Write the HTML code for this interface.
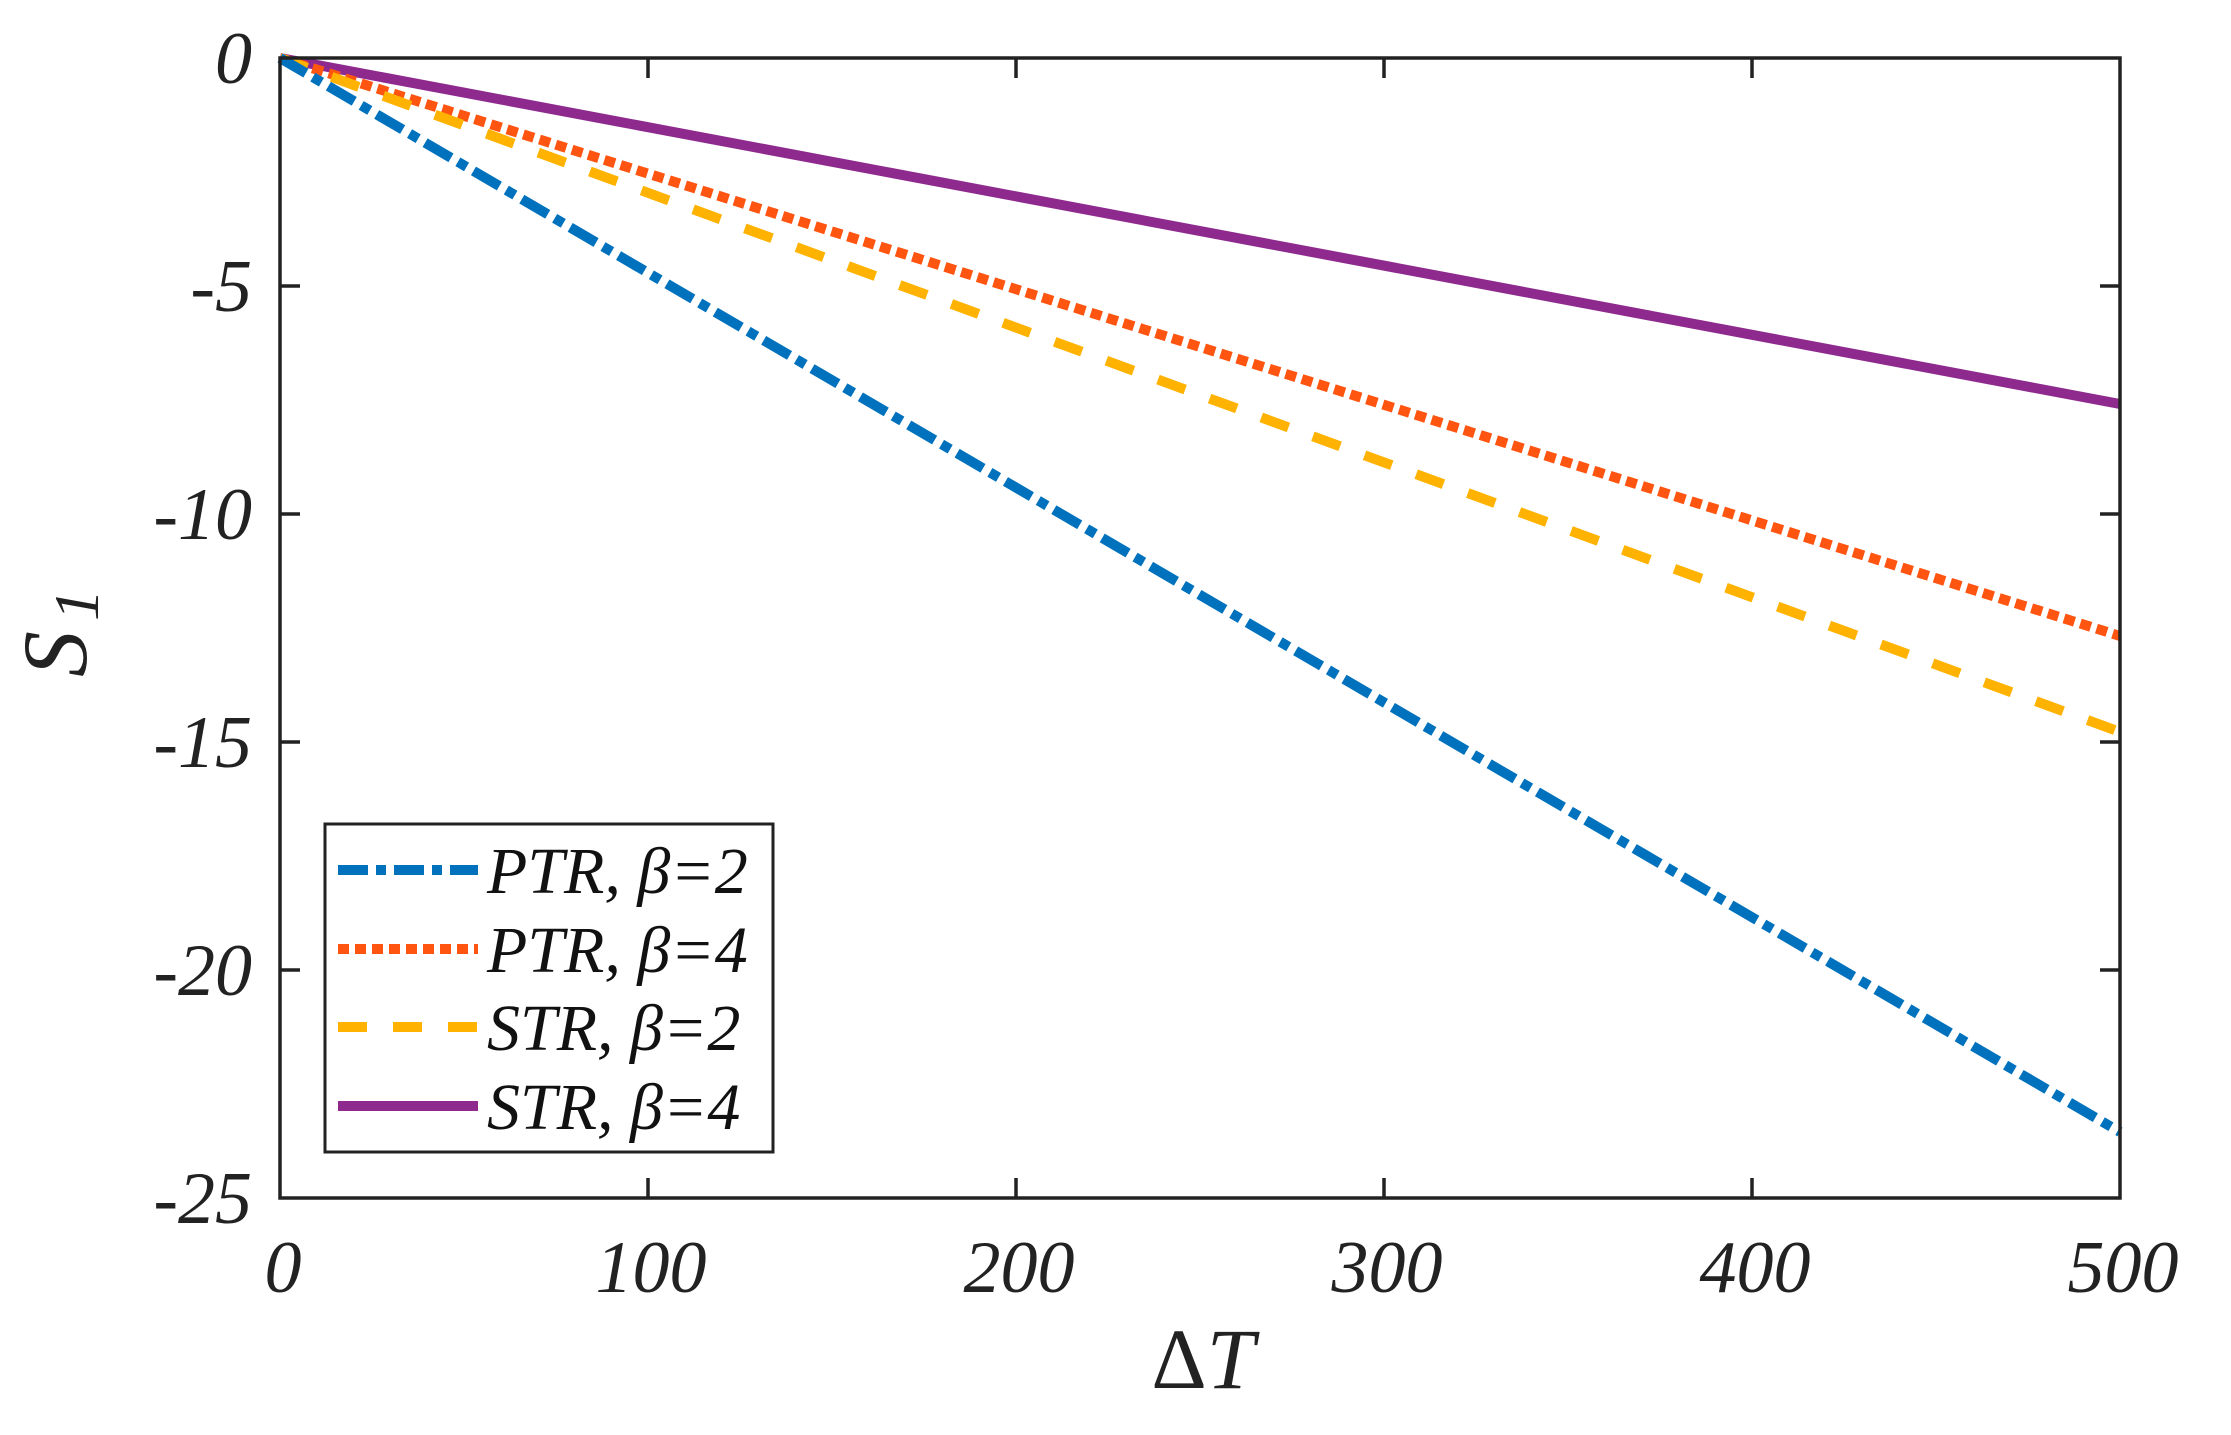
<!DOCTYPE html>
<html><head><meta charset="utf-8"><style>html,body{margin:0;padding:0;background:#fff;}svg{display:block}text{font-family:"Liberation Serif","Times New Roman",serif;}</style></head>
<body>
<svg width="2231" height="1435" viewBox="0 0 2231 1435" xmlns="http://www.w3.org/2000/svg" fill="#222">
<rect width="2231" height="1435" fill="#fff"/>
<g fill="none" stroke-width="10" stroke-linecap="butt">
<line x1="280" y1="58" x2="2120" y2="404" stroke="#8E2A8E"/>
<line x1="280" y1="58" x2="2120" y2="636" stroke="#FF5511" stroke-dasharray="11,6"/>
<line x1="280" y1="58" x2="2120" y2="732" stroke="#FFB300" stroke-dasharray="29,26"/>
<line x1="280" y1="58" x2="2120" y2="1132" stroke="#0072BD" stroke-dasharray="30,8,10,8"/>
</g>
<rect x="280" y="58" width="1840" height="1140" fill="none" stroke="#222" stroke-width="3.5"/>
<g stroke="#222" stroke-width="3.5">
<line x1="648" y1="1198" x2="648" y2="1178"/><line x1="1016" y1="1198" x2="1016" y2="1178"/><line x1="1384" y1="1198" x2="1384" y2="1178"/><line x1="1752" y1="1198" x2="1752" y2="1178"/>
<line x1="648" y1="58" x2="648" y2="78"/><line x1="1016" y1="58" x2="1016" y2="78"/><line x1="1384" y1="58" x2="1384" y2="78"/><line x1="1752" y1="58" x2="1752" y2="78"/>
<line x1="280" y1="286" x2="300" y2="286"/><line x1="280" y1="514" x2="300" y2="514"/><line x1="280" y1="742" x2="300" y2="742"/><line x1="280" y1="970" x2="300" y2="970"/>
<line x1="2120" y1="286" x2="2100" y2="286"/><line x1="2120" y1="514" x2="2100" y2="514"/><line x1="2120" y1="742" x2="2100" y2="742"/><line x1="2120" y1="970" x2="2100" y2="970"/>
</g>
<g font-size="74" font-style="italic" text-anchor="middle">
<text x="283" y="1292">0</text><text x="651" y="1292">100</text><text x="1019" y="1292">200</text><text x="1387" y="1292">300</text><text x="1755" y="1292">400</text><text x="2123" y="1292">500</text>
</g>
<g font-size="74" font-style="italic" text-anchor="end">
<text x="252" y="83">0</text><text x="252" y="311">-5</text><text x="252" y="539">-10</text><text x="252" y="767">-15</text><text x="252" y="995">-20</text><text x="252" y="1223">-25</text>
</g>
<text x="1203" y="1388" font-size="86" text-anchor="middle"><tspan>Δ</tspan><tspan font-style="italic">T</tspan></text>
<text transform="translate(86,633) rotate(-90)" font-size="92" font-style="italic" text-anchor="middle">S<tspan font-size="64" dy="12" dx="10">1</tspan></text>
<rect x="325" y="824" width="448" height="328" fill="#fff" stroke="#222" stroke-width="3"/>
<g stroke-width="10" fill="none">
<line x1="338" y1="870" x2="478" y2="870" stroke="#0072BD" stroke-dasharray="30,8,10,8"/>
<line x1="338" y1="949" x2="478" y2="949" stroke="#FF5511" stroke-dasharray="11,6"/>
<line x1="338" y1="1027" x2="478" y2="1027" stroke="#FFB300" stroke-dasharray="29,26"/>
<line x1="338" y1="1106" x2="478" y2="1106" stroke="#8E2A8E"/>
</g>
<g font-size="66" font-style="italic" fill="#111">
<text x="487" y="893">PTR, β=2</text>
<text x="487" y="972">PTR, β=4</text>
<text x="487" y="1050">STR, β=2</text>
<text x="487" y="1129">STR, β=4</text>
</g>
</svg>
</body></html>
